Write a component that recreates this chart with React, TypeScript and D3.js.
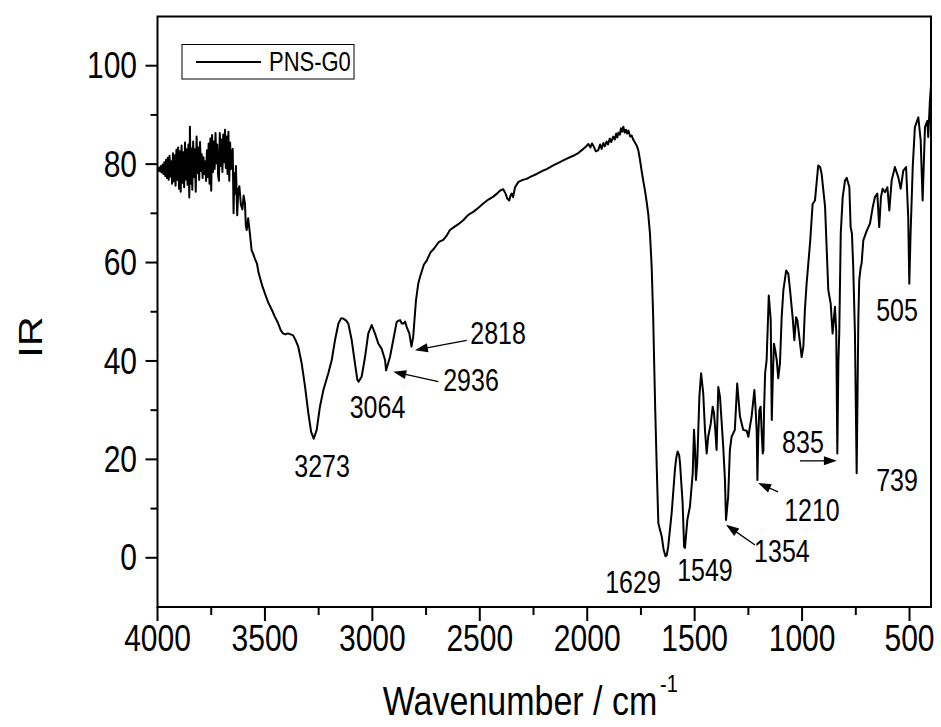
import React from 'react';
import * as d3 from 'd3';

const W = 941;
const H = 727;
const PLOT = { left: 157.5, right: 931, top: 16.5, bottom: 607 };
const SY = 1.22;
const FONT = "'Liberation Sans', Arial, Helvetica, sans-serif";

// ---------- data ----------
const xDomain: [number, number] = [4000, 400];
const yDomain: [number, number] = [-10, 110];
const xTicks = [4000, 3500, 3000, 2500, 2000, 1500, 1000, 500];
const xMinorTicks = [3750, 3250, 2750, 2250, 1750, 1250, 750];
const yTicks = [0, 20, 40, 60, 80, 100];
const yMinorTicks = [10, 30, 50, 70, 90];
const seriesName = 'PNS-G0';
const xTitle = 'Wavenumber / cm';
const xTitleSup = '-1';
const yTitle = 'IR';

// O-H / N-H stretch region, noisy start
const noiseRegion: [number, number][] = [
  [4000, 79.0], [3996, 78.7], [3992, 79.3], [3988, 78.5], [3984, 79.6], [3980, 78.3], [3976, 79.9], [3972, 78.0],
  [3968, 80.4], [3964, 77.6], [3960, 80.9], [3956, 77.2], [3952, 81.3], [3948, 76.8], [3944, 81.7], [3940, 77.5],
  [3936, 80.6], [3932, 76.0], [3928, 82.2], [3924, 76.5], [3920, 81.8], [3916, 75.6], [3912, 82.9], [3908, 76.8],
  [3904, 83.4], [3900, 75.0], [3896, 82.6], [3892, 74.4], [3888, 83.8], [3884, 76.2], [3880, 82.4], [3876, 75.3],
  [3872, 84.4], [3868, 76.9], [3864, 83.0], [3860, 75.8], [3856, 84.0], [3852, 73.2], [3849, 87.6], [3846, 76.0],
  [3842, 83.2], [3838, 74.8], [3834, 84.6], [3830, 77.4], [3826, 83.0], [3822, 74.4], [3818, 85.6], [3814, 78.2],
  [3810, 83.4], [3806, 76.8], [3802, 84.5], [3798, 78.6], [3794, 82.0], [3790, 77.2], [3786, 81.4], [3782, 78.0],
  [3778, 80.6], [3774, 76.6], [3770, 82.8], [3766, 77.4], [3762, 84.2], [3758, 76.0], [3754, 85.2], [3750, 74.6],
  [3746, 85.9], [3742, 78.4], [3738, 84.6], [3734, 79.0], [3730, 86.3], [3726, 80.2], [3722, 84.0], [3718, 77.8],
  [3714, 76.6], [3710, 86.3], [3706, 79.6], [3702, 85.0], [3698, 78.4], [3694, 86.0], [3690, 80.4], [3686, 87.0],
  [3682, 79.2], [3678, 85.6], [3674, 78.0], [3670, 86.6], [3666, 76.6], [3662, 84.4], [3658, 79.0], [3654, 82.2],
  [3650, 83.1], [3646, 70.0], [3642, 78.2], [3638, 74.0], [3635, 79.6], [3629, 69.6], [3624, 74.8], [3619, 75.5],
  [3612, 71.8], [3605, 70.8], [3599, 73.6], [3593, 72.0], [3589, 67.6], [3585, 66.6], [3578, 69.0], [3570, 65.9],
  [3562, 62.5], [3555, 61.8], [3547, 60.8], [3537, 59.8], [3530, 58.0], [3523, 56.9], [3512, 55.2], [3500, 53.7],
  [3485, 51.9], [3467, 50.3], [3453, 48.9], [3439, 47.7], [3427, 46.3], [3416, 45.6], [3405, 45.4], [3393, 45.6],
  [3380, 45.4], [3369, 45.2], [3357, 44.2], [3345, 42.9],
];

// 3273 / 3064 / 2936 / 2818 bands and the rising baseline
const chRegion: [number, number][] = [
  [3329, 39.5], [3313, 34.7], [3298, 29.4], [3285, 25.6], [3273, 24.2], [3259, 26.0], [3244, 30.7], [3228, 34.1],
  [3205, 37.5], [3189, 40.2], [3174, 44.2], [3158, 47.6], [3145, 48.7], [3135, 48.6], [3122, 48.2], [3112, 47.6],
  [3096, 44.2], [3081, 39.5], [3070, 36.2], [3064, 35.8], [3050, 36.8], [3034, 40.8], [3019, 45.6], [3003, 47.3],
  [2988, 45.6], [2972, 43.5], [2957, 42.5], [2941, 40.2], [2936, 38.1], [2918, 40.8], [2903, 44.2], [2887, 47.9],
  [2878, 48.2], [2871, 48.3], [2863, 47.6], [2856, 47.6], [2848, 48.0], [2840, 46.9], [2828, 45.6], [2818, 42.9],
  [2810, 44.9], [2797, 52.3], [2786, 55.8], [2778, 57.1], [2760, 59.6], [2747, 60.4], [2730, 62.0], [2712, 62.9],
  [2690, 64.2], [2670, 64.6], [2655, 65.4], [2639, 66.6], [2620, 67.2], [2600, 67.8], [2577, 68.6], [2560, 69.4],
  [2546, 69.9], [2530, 70.3], [2505, 71.2], [2484, 72.0], [2460, 72.8], [2437, 73.4], [2420, 74.0], [2406, 74.6],
  [2391, 74.9], [2380, 74.0], [2372, 73.0], [2363, 72.6], [2357, 73.6], [2351, 74.0], [2345, 73.3], [2336, 75.3],
  [2320, 76.4], [2300, 76.8], [2282, 77.0], [2260, 77.5], [2235, 78.0], [2210, 78.6], [2189, 79.0], [2160, 79.7],
  [2127, 80.4], [2100, 81.0], [2065, 81.7], [2040, 82.3], [2018, 83.1], [2005, 83.6], [1995, 84.1], [1985, 83.4],
  [1978, 84.2], [1972, 83.8], [1960, 82.6], [1949, 82.8], [1940, 84.0], [1933, 83.1], [1925, 84.3], [1918, 83.6],
  [1910, 84.6], [1903, 84.0], [1895, 85.2], [1888, 84.5], [1879, 85.6], [1872, 85.0], [1865, 86.2], [1860, 85.4],
  [1855, 86.4], [1848, 86.0], [1843, 87.3], [1838, 86.6], [1832, 87.6], [1826, 86.4], [1820, 87.0], [1814, 86.2],
  [1808, 86.8], [1800, 85.6], [1793, 85.8], [1786, 85.0], [1778, 84.4], [1770, 83.8], [1762, 82.8], [1755, 81.0],
  [1747, 78.7], [1740, 76.8], [1731, 74.6], [1723, 72.2], [1716, 69.9], [1708, 65.9], [1700, 59.1], [1693, 48.9],
  [1688, 38.8], [1684, 31.0], [1677, 19.2],
];

// amide region 1670 - 1260
const amideRegion: [number, number][] = [
  [1669, 7.0], [1653, 4.3], [1645, 1.8], [1636, 0.3], [1630, 0.5], [1623, 2.3], [1607, 9.1], [1592, 17.8],
  [1586, 20.2], [1579, 21.6], [1572, 20.8], [1568, 19.2], [1556, 11.1], [1549, 2.2], [1545, 2.0], [1540, 4.6],
  [1534, 7.7], [1522, 10.4], [1509, 17.2], [1503, 26.0], [1498, 21.9], [1494, 15.8], [1488, 19.2], [1478, 32.7],
  [1470, 37.5], [1460, 33.4], [1452, 26.0], [1444, 21.2], [1437, 24.6], [1425, 27.3], [1416, 30.7], [1410, 29.4],
  [1404, 26.0], [1398, 21.9], [1390, 34.7], [1382, 32.7], [1374, 27.3], [1367, 22.6], [1359, 15.8], [1354, 7.7],
  [1344, 12.4], [1336, 21.9], [1328, 24.6], [1313, 26.0], [1302, 35.4], [1289, 28.7], [1274, 26.0], [1258, 25.8],
];

// fingerprint region 1250 - 400
const fingerprintRegion: [number, number][] = [
  [1250, 24.6], [1243, 26.6], [1235, 28.7], [1222, 34.1], [1216, 30.0], [1211, 25.4], [1208, 15.8], [1204, 24.6],
  [1199, 30.0], [1193, 30.7], [1187, 24.6], [1183, 21.2], [1180, 21.9], [1177, 30.0], [1172, 37.5], [1165, 40.2],
  [1155, 53.3], [1146, 48.3], [1141, 28.0], [1137, 35.4], [1131, 43.5], [1125, 42.2], [1118, 40.2], [1111, 36.5],
  [1103, 39.5], [1095, 48.9], [1087, 54.4], [1074, 58.4], [1064, 57.7], [1056, 54.4], [1044, 48.9], [1036, 44.2],
  [1028, 48.9], [1022, 48.3], [1013, 44.9], [1002, 40.8], [994, 42.9], [987, 50.3], [979, 55.7], [971, 59.8],
  [962, 64.5], [951, 71.9], [940, 72.6], [925, 79.7], [916, 79.4], [909, 78.0], [893, 71.3], [878, 54.4],
  [867, 51.7], [858, 45.6], [847, 51.0], [841, 46.0], [836, 21.2], [831, 40.0], [827, 45.6], [820, 65.9],
  [811, 73.3], [800, 76.7], [792, 77.2], [780, 75.3], [774, 67.2], [768, 65.9], [762, 59.1], [754, 45.6],
  [746, 17.2], [738, 48.9], [734, 56.4], [727, 59.1], [723, 59.8], [715, 64.5], [699, 66.5], [684, 67.9],
  [671, 71.3], [661, 73.3], [650, 74.0], [641, 67.2], [633, 73.3], [625, 75.0], [614, 74.3], [603, 75.3],
  [594, 70.6], [583, 76.7], [568, 79.4], [552, 77.3], [541, 75.0], [529, 78.7], [516, 79.4], [506, 69.2],
  [501, 55.7], [495, 65.9], [485, 79.4], [475, 87.5], [459, 89.5], [448, 84.8], [439, 72.6], [428, 87.5],
  [417, 88.8], [413, 85.5], [405, 92.9], [400, 96.0],
];

// peak labels: text and label centre in data coordinates
const peakLabels: { text: string; wn: number; v: number }[] = [
  { text: '3273', wn: 3234, v: 18.5 },
  { text: '3064', wn: 2976, v: 30.6 },
  { text: '2936', wn: 2541, v: 36.1 },
  { text: '2818', wn: 2415, v: 45.6 },
  { text: '1629', wn: 1787, v: -5.1 },
  { text: '1549', wn: 1452, v: -2.6 },
  { text: '1354', wn: 1094, v: 1.2 },
  { text: '1210', wn: 954, v: 9.5 },
  { text: '835', wn: 996, v: 23.5 },
  { text: '739', wn: 558, v: 15.6 },
  { text: '505', wn: 558, v: 50.3 },
];

// arrows: from (tail) -> to (head), data coordinates
const peakArrows: { fromWn: number; fromV: number; toWn: number; toV: number }[] = [
  { fromWn: 2561, fromV: 44.2, toWn: 2802, toV: 42.2 },
  { fromWn: 2693, fromV: 35.8, toWn: 2903, toV: 37.8 },
  { fromWn: 1219, fromV: 2.6, toWn: 1354, toV: 6.7 },
  { fromWn: 1112, fromV: 13.4, toWn: 1205, toV: 15.2 },
  { fromWn: 1010, fromV: 19.7, toWn: 838, toV: 19.7 },
];

// ---------- component ----------
function SText(props: {
  x: number; y: number; size: number; anchor?: string; rotate?: number; children: React.ReactNode;
}) {
  const { x, y, size, anchor = 'middle', rotate, children } = props;
  const tf = rotate
    ? `translate(${x},${y}) rotate(${rotate}) scale(${SY},1)`
    : `translate(${x},${y}) scale(1,${SY})`;
  return (
    <text
      transform={tf}
      fontSize={size}
      fontFamily={FONT}
      textAnchor={anchor as any}
      dominantBaseline="central"
      fill="#000"
    >
      {children}
    </text>
  );
}

export default function App() {
  const x = d3.scaleLinear().domain(xDomain).range([PLOT.left, PLOT.right]);
  const y = d3.scaleLinear().domain(yDomain).range([PLOT.bottom, PLOT.top]);

  const spectrum = [...noiseRegion, ...chRegion, ...amideRegion, ...fingerprintRegion];
  const line = d3
    .line<[number, number]>()
    .x((d) => x(d[0]))
    .y((d) => y(d[1]));

  const arrowHead = (x1: number, y1: number, x2: number, y2: number) => {
    const ang = Math.atan2(y2 - y1, x2 - x1);
    const L = 13;
    const Wd = 4.5;
    const bx = x2 - L * Math.cos(ang);
    const by = y2 - L * Math.sin(ang);
    const px = -Math.sin(ang) * Wd;
    const py = Math.cos(ang) * Wd;
    return `M${x2},${y2}L${bx + px},${by + py}L${bx - px},${by - py}Z`;
  };

  const legendY = 62;

  return (
    <svg
      width={W}
      height={H}
      style={{ position: 'absolute', left: 0, top: 0, background: '#fff' }}
    >
      <rect x={0} y={0} width={W} height={H} fill="#fff" />

      {/* spectrum */}
      <path d={line(spectrum) || ''} fill="none" stroke="#000" strokeWidth={2} strokeLinejoin="round" />

      {/* frame */}
      <rect
        x={PLOT.left}
        y={PLOT.top}
        width={PLOT.right - PLOT.left}
        height={PLOT.bottom - PLOT.top}
        fill="none"
        stroke="#000"
        strokeWidth={2}
      />

      {/* x ticks */}
      {xTicks.map((t) => (
        <g key={'xt' + t}>
          <line x1={x(t)} x2={x(t)} y1={PLOT.bottom} y2={PLOT.bottom + 14} stroke="#000" strokeWidth={2} />
          <SText x={x(t)} y={638} size={30}>{t}</SText>
        </g>
      ))}
      {xMinorTicks.map((t) => (
        <line key={'xm' + t} x1={x(t)} x2={x(t)} y1={PLOT.bottom} y2={PLOT.bottom + 8} stroke="#000" strokeWidth={2} />
      ))}

      {/* y ticks */}
      {yTicks.map((t) => (
        <g key={'yt' + t}>
          <line x1={PLOT.left - 12} x2={PLOT.left} y1={y(t)} y2={y(t)} stroke="#000" strokeWidth={2} />
          <SText x={137} y={y(t)} size={30} anchor="end">{t}</SText>
        </g>
      ))}
      {yMinorTicks.map((t) => (
        <line key={'ym' + t} x1={PLOT.left - 7} x2={PLOT.left} y1={y(t)} y2={y(t)} stroke="#000" strokeWidth={2} />
      ))}

      {/* axis titles */}
      <SText x={520} y={701} size={34}>{xTitle}</SText>
      <text
        transform={`translate(${520 + 140},${684}) scale(1,${SY})`}
        fontSize={20}
        fontFamily={FONT}
        textAnchor="start"
        dominantBaseline="central"
      >
        {xTitleSup}
      </text>
      <SText x={30} y={337} size={34} rotate={-90}>{yTitle}</SText>

      {/* legend */}
      <rect x={182} y={44.5} width={172} height={34.5} fill="#fff" stroke="#000" strokeWidth={1} />
      <line x1={196} x2={261} y1={legendY} y2={legendY} stroke="#000" strokeWidth={2} />
      <SText x={269} y={legendY} size={22} anchor="start">{seriesName}</SText>

      {/* peak annotations */}
      {peakLabels.map((p) => (
        <SText key={p.text} x={x(p.wn)} y={y(p.v)} size={25}>{p.text}</SText>
      ))}
      {peakArrows.map((a, i) => {
        const x1 = x(a.fromWn), y1 = y(a.fromV), x2 = x(a.toWn), y2 = y(a.toV);
        const ang = Math.atan2(y2 - y1, x2 - x1);
        return (
          <g key={'ar' + i}>
            <line x1={x1} y1={y1} x2={x2 - 8 * Math.cos(ang)} y2={y2 - 8 * Math.sin(ang)} stroke="#000" strokeWidth={1.3} />
            <path d={arrowHead(x1, y1, x2, y2)} fill="#000" />
          </g>
        );
      })}
    </svg>
  );
}
